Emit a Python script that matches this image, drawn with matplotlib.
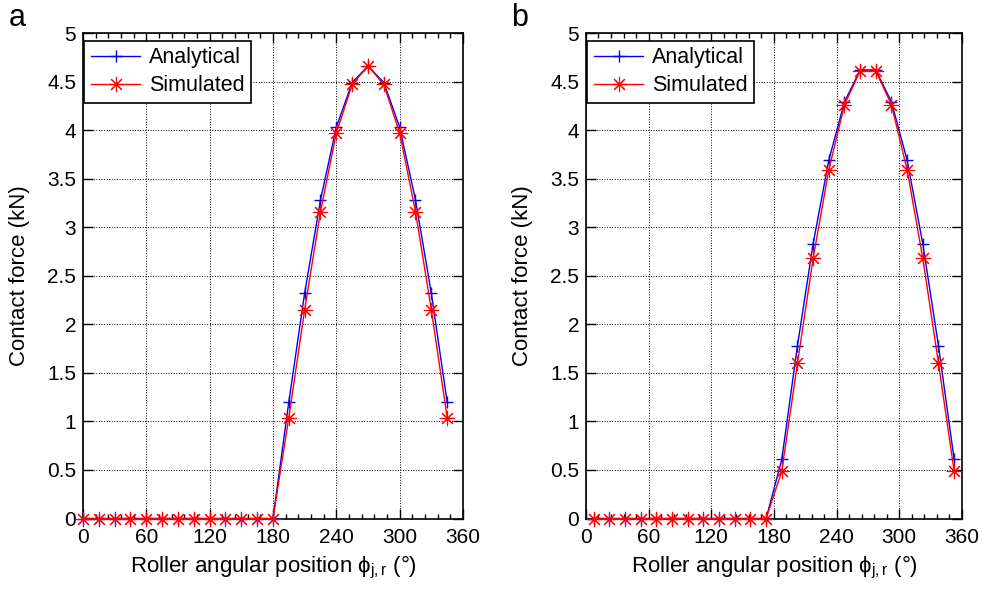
#!/usr/bin/env python3
"""Contact force vs roller angular position, analytical vs simulated (two cases)."""

import matplotlib
matplotlib.use("Agg")
import matplotlib.pyplot as plt
from matplotlib.ticker import FormatStrFormatter, MultipleLocator

plt.rcParams["font.family"] = ["Liberation Sans", "DejaVu Sans"]
plt.rcParams["mathtext.fontset"] = "custom"
plt.rcParams["mathtext.rm"] = "Liberation Sans"
plt.rcParams["mathtext.it"] = "Liberation Sans"

# Case a: rollers every 15 deg starting at 0
angle_a = [0, 15, 30, 45, 60, 75, 90, 105, 120, 135, 150, 165, 180,
           195, 210, 225, 240, 255, 270, 285, 300, 315, 330, 345]
analytical_a = [0] * 13 + [1.20, 2.32, 3.28, 4.03, 4.49, 4.66,
                           4.49, 4.03, 3.28, 2.32, 1.20]
simulated_a = [0] * 13 + [1.04, 2.15, 3.16, 3.97, 4.47, 4.66,
                          4.47, 3.97, 3.16, 2.15, 1.04]

# Case b: rollers every 15 deg starting at 7.5
angle_b = [7.5, 22.5, 37.5, 52.5, 67.5, 82.5, 97.5, 112.5, 127.5, 142.5,
           157.5, 172.5, 187.5, 202.5, 217.5, 232.5, 247.5, 262.5, 277.5,
           292.5, 307.5, 322.5, 337.5, 352.5]
analytical_b = [0] * 12 + [0.61, 1.78, 2.83, 3.69, 4.29, 4.62,
                           4.62, 4.29, 3.69, 2.83, 1.78, 0.61]
simulated_b = [0] * 12 + [0.49, 1.60, 2.68, 3.59, 4.26, 4.61,
                          4.61, 4.26, 3.59, 2.68, 1.60, 0.49]

x_ticks = [0, 60, 120, 180, 240, 300, 360]
ASTERISK = (8, 2, 0)


def draw_panel(ax, angle, ana, sim):
    ax.plot(angle, ana, color="blue", lw=1.0, marker="+", ms=8,
            mew=1.0, label="Analytical", clip_on=False, zorder=3)
    ax.plot(angle, sim, color="red", lw=1.0, marker=ASTERISK, ms=11,
            mew=0.8, label="Simulated", clip_on=False, zorder=4)

    ax.set_xlim(0, 360)
    ax.set_ylim(0, 5)
    ax.set_xticks(x_ticks)
    ax.xaxis.set_minor_locator(MultipleLocator(12))
    ax.yaxis.set_major_locator(MultipleLocator(0.5))
    ax.yaxis.set_major_formatter(FormatStrFormatter("%g"))

    ax.grid(True, which="major", color="black", ls=":", lw=0.7)
    ax.tick_params(which="both", direction="in", top=True, right=True,
                   labelsize=15, width=1.0)
    ax.tick_params(which="major", length=7)
    ax.tick_params(which="minor", length=3.5)
    ax.tick_params(axis="x", which="major", pad=7)
    ax.tick_params(axis="y", which="major", pad=5)
    for sp in ax.spines.values():
        sp.set_linewidth(1.2)
        sp.set_color("black")

    ax.set_xlabel(r"Roller angular position $\mathregular{\phi_{j,r}}$ (°)",
                  fontsize=16, labelpad=5)
    ax.set_ylabel("Contact force (kN)", fontsize=16, labelpad=12)

    leg = ax.legend(loc="upper left", bbox_to_anchor=(0.004, 0.984),
                    borderaxespad=0, fontsize=15.5, fancybox=False,
                    edgecolor="black", framealpha=1, handlelength=2.3,
                    borderpad=0.3, labelspacing=0.32, handletextpad=0.4)
    leg.get_frame().set_linewidth(1.2)


fig = plt.figure(figsize=(9.83, 5.93), dpi=100)
ax_a = fig.add_axes([0.0844, 0.1256, 0.3866, 0.8187])
ax_b = fig.add_axes([0.5961, 0.1256, 0.3825, 0.8187])

draw_panel(ax_a, angle_a, analytical_a, simulated_a)
draw_panel(ax_b, angle_b, analytical_b, simulated_b)

fig.text(9 / 983, 1 - 26 / 593, "a", fontsize=22, va="baseline", ha="left")
fig.text(511 / 983, 1 - 26 / 593, "b", fontsize=22, va="baseline", ha="left")

fig.savefig("out.png", dpi=100)
